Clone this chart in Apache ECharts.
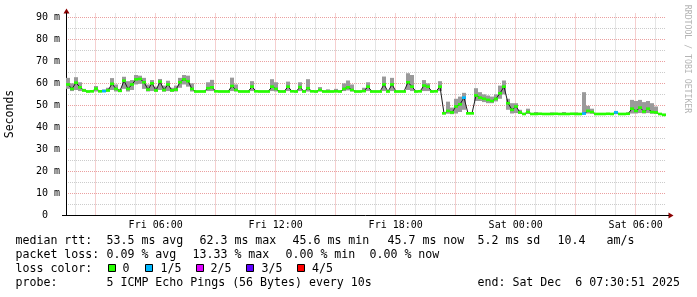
<!DOCTYPE html>
<html><head><meta charset="utf-8">
<script src="https://cdn.jsdelivr.net/npm/echarts@6/dist/echarts.min.js"></script>
<style>html,body{margin:0;padding:0;background:#fff}#c{width:697px;height:297px}</style>
</head><body><div id="c"></div>
<script>
// ---- time axis (hours since Fri 00:00) ----
const startHour = 1.5142;   // Fri 01:30:51
const endHour = 31.5142;    // Sat 07:30:51
const sampleStep = 0.2;     // one sample every 12 minutes

// ---- median RTT (ms) ----
const median = [
59.5,57.5,60.3,58.2,56.8,56.3,56.4,57.6,56.4,56.5,
56.8,59.8,57.5,56.6,61.2,57.5,59.5,61.8,62.0,60.5,
57.2,60.0,56.8,60.8,57.0,59.5,56.8,57.2,60.5,61.8,
61.0,57.5,56.3,56.3,56.3,57.8,58.2,56.4,56.3,56.3,
56.3,58.8,57.0,56.3,56.3,56.3,58.5,56.4,56.3,56.3,
56.3,58.5,57.5,56.3,56.3,58.5,56.4,56.3,58.3,56.3,
57.8,56.4,56.3,57.0,56.3,56.3,56.3,56.4,56.3,57.5,
58.2,57.0,56.3,56.3,56.5,58.5,56.3,56.3,56.3,59.5,
56.3,59.5,56.3,56.3,56.3,60.5,58.5,56.3,56.4,59.0,
58.5,56.3,56.4,58.5,46.4,47.5,46.8,49.5,50.5,53.5,
46.4,46.4,54.5,53.5,53.0,52.5,52.0,53.0,55.5,58.5,
51.0,48.0,49.5,46.8,46.1,47.0,46.1,46.1,46.2,46.1,
46.1,46.1,46.2,46.1,46.1,46.1,46.2,46.1,46.1,46.3,
47.5,47.0,46.1,46.1,46.1,46.2,46.1,46.8,46.1,46.1,
46.2,48.5,47.5,49.0,47.2,48.5,47.0,46.8,46.1,45.7
];
// ---- smoke: lowest and highest ping (ms) ----
const smokeLo = [
57.5,56.5,57.0,56.5,56.2,56.0,56.0,56.3,56.0,56.0,
56.2,57.0,56.3,56.2,57.5,56.3,57.0,59.5,59.8,57.5,
56.3,56.5,56.2,57.0,56.2,56.5,56.2,56.3,58.0,59.5,
58.5,56.3,56.0,56.0,56.0,56.5,56.5,56.0,56.0,56.0,
56.0,56.5,56.3,56.0,56.0,56.0,56.5,56.0,56.0,56.0,
56.0,56.5,56.3,56.0,56.0,56.5,56.0,56.0,56.5,56.0,
56.3,56.0,56.0,56.3,56.0,56.0,56.0,56.0,56.0,56.5,
56.8,56.3,56.0,56.0,56.0,56.5,56.0,56.0,56.0,56.5,
56.0,56.5,56.0,56.0,56.0,57.0,56.5,56.0,56.0,56.5,
56.5,56.0,56.0,56.5,46.0,46.2,46.0,46.3,47.0,48.0,
46.0,46.0,52.0,52.0,51.5,51.0,51.0,51.8,53.0,55.0,
48.0,46.3,46.5,46.1,45.8,46.1,45.8,45.8,45.8,45.8,
45.8,45.8,45.8,45.8,45.8,45.8,45.8,45.8,45.8,45.9,
46.3,46.2,45.8,45.8,45.8,45.8,45.8,46.0,45.8,45.8,
45.9,46.3,46.3,46.5,46.3,46.5,46.2,46.2,45.8,45.5
];
const smokeHi = [
62.5,60.0,62.8,60.5,57.5,56.8,57.0,58.8,57.0,57.2,
58.0,62.4,59.5,57.5,63.0,61.0,61.5,63.8,63.5,62.5,
59.5,61.5,58.5,62.0,59.0,61.2,58.0,59.0,62.5,63.8,
63.5,60.0,56.8,56.8,56.8,60.5,61.6,57.0,56.8,56.8,
56.8,62.6,59.5,56.8,56.8,56.8,61.0,57.0,56.8,56.8,
56.8,61.9,60.5,56.8,56.8,60.8,57.0,56.8,60.5,56.8,
61.9,57.0,56.8,58.3,56.8,57.3,56.8,57.5,56.8,60.0,
61.3,59.5,56.8,56.8,58.0,60.5,56.8,56.8,56.8,63.1,
56.8,62.5,56.8,56.8,56.8,64.6,63.8,56.8,57.0,61.5,
60.0,56.8,57.0,61.0,46.8,51.7,49.0,53.0,54.0,55.7,
46.8,46.8,57.8,56.0,55.0,54.5,54.0,55.0,59.0,61.3,
53.0,51.0,51.0,48.0,46.5,48.5,46.5,47.0,46.5,46.5,
46.5,46.8,46.5,46.5,47.0,46.5,46.5,46.8,46.5,56.0,
49.8,48.5,46.5,46.5,46.5,46.5,46.5,47.5,46.5,46.5,
46.8,52.5,52.0,52.5,51.5,52.0,51.0,49.5,46.5,46.2
];
// ---- packet loss (sample index -> level, 1 = 1/5) ----
const lossIdx = [9, 99, 129, 137];
const lossLvl = [1, 1, 1, 1];
const lossColors = ['#26ff00', '#00b8ff', '#dd00ff', '#5e00ff', '#ff0000'];
const lossLabels = ['0', '1/5', '2/5', '3/5', '4/5'];

// ---- axes ----
const yTickValues = [0, 10, 20, 30, 40, 50, 60, 70, 80, 90];
const xLabelHours = [6, 12, 18, 24, 30];
const xLabelText = ['Fri 06:00', 'Fri 12:00', 'Fri 18:00', 'Sat 00:00', 'Sat 06:00'];

// ---- legend texts ----
const rttTitle = 'median rtt:';
const rttStats = ['53.5 ms avg', '62.3 ms max', '45.6 ms min', '45.7 ms now', '5.2 ms sd', '10.4', 'am/s'];
const lossTitle = 'packet loss:';
const lossStats = ['0.09 % avg', '13.33 % max', '0.00 % min', '0.00 % now'];
const colorTitle = 'loss color:';
const probeTitle = 'probe:';
const probeText = '5 ICMP Echo Pings (56 Bytes) every 10s';
const endText = 'end: Sat Dec  6 07:30:51 2025';
const yAxisTitle = 'Seconds';
const watermark = 'RRDTOOL / TOBI OETIKER';

// ================= build =================
const MONO = "'DejaVu Sans Mono', monospace";
const xs = median.map((_, i) => startHour + (i + 0.5) * sampleStep);
const lossLevel = median.map(() => 0);
lossIdx.forEach((ix, k) => { lossLevel[ix] = lossLvl[k]; });
const bandHalf = 0.6;

const gridLines = [];
for (let h = Math.ceil(startHour); h <= Math.floor(endHour); h++) {
  gridLines.push({ xAxis: h, lineStyle: { color: h % 3 === 0 ? '#eba0a0' : '#cccccc', type: [1, 1], width: 1 } });
}
for (let v = 5; v <= 90; v += 5) {
  gridLines.push({ yAxis: v, lineStyle: { color: v % 10 === 0 ? '#eba0a0' : '#cccccc', type: [1, 1], width: 1 } });
}

const chart = echarts.init(document.getElementById('c'), null, { renderer: 'canvas' });
const G = { left: 66, right: 31, top: 13, bottom: 81.5 };
const yMax = 202.5 / 2.2022;
const FS = 11.6;

const graphics = [];
function txt(x, y, s) {
  graphics.push({ type: 'text', x: x, y: y, silent: true,
    style: { text: s, fill: '#000', font: FS + 'px ' + MONO, textVerticalAlign: 'middle' } });
}
// legend line 1
txt(15.5, 241, rttTitle);
[107, 200, 293, 388, 478, 558, 607].forEach((x, k) => txt(x - 0.5, 241, rttStats[k]));
// legend line 2
txt(15.5, 255, lossTitle);
[107, 193, 286, 370].forEach((x, k) => txt(x - 0.5, 255, lossStats[k]));
// legend line 3
txt(15.5, 269, colorTitle);
const boxX = [108.5, 145.5, 196.5, 246.5, 297.5];
const boxTextX = [123, 161, 211, 262, 312.5];
lossColors.forEach((c, k) => {
  graphics.push({ type: 'rect', silent: true, shape: { x: boxX[k], y: 264.5, width: 7, height: 7 },
    style: { fill: c, stroke: '#000', lineWidth: 1 } });
  txt(boxTextX[k] - 0.5, 269, lossLabels[k]);
});
// legend line 4
txt(15.5, 283, probeTitle);
txt(106.5, 283, probeText);
txt(477.5, 283, endText);
// y title
graphics.push({ type: 'text', x: 10, y: 114, rotation: Math.PI / 2, silent: true,
  style: { text: yAxisTitle, fill: '#000', font: '11.5px ' + MONO, textAlign: 'center', textVerticalAlign: 'middle' } });
// watermark
graphics.push({ type: 'text', x: 687.5, y: 59, rotation: -Math.PI / 2, silent: true,
  style: { text: watermark, fill: '#b4b4b4', font: '8.2px ' + MONO, textAlign: 'center', textVerticalAlign: 'middle' } });
// axis arrows
graphics.push({ type: 'polygon', silent: true, shape: { points: [[63.5, 13.5], [69.5, 13.5], [66.5, 8.5]] }, style: { fill: '#8b0000' } });
graphics.push({ type: 'polygon', silent: true, shape: { points: [[668.5, 212.5], [668.5, 218.5], [673.5, 215.5]] }, style: { fill: '#8b0000' } });
// x axis line (extends a little left of the y axis, as in RRDtool)
graphics.push({ type: 'line', silent: true, z: 10, shape: { x1: 62, y1: 215.5, x2: 669, y2: 215.5 }, style: { stroke: '#000', lineWidth: 1 } });

function colRect(api, x, lo, hi) {
  const a = api.coord([x - sampleStep / 2, hi]);
  const b = api.coord([x + sampleStep / 2, lo]);
  const x0 = Math.round(a[0]), x1 = Math.round(b[0]);
  return { x: x0, y: a[1], width: x1 - x0, height: Math.max(1, b[1] - a[1]) };
}

const option = {
  animation: false,
  backgroundColor: '#ffffff',
  grid: G,
  xAxis: {
    type: 'value', min: startHour, max: endHour,
    axisLine: { show: false },
    axisTick: { show: false },
    splitLine: { show: false },
    axisLabel: {
      customValues: xLabelHours,
      formatter: v => { const k = xLabelHours.indexOf(Math.round(v)); return k >= 0 ? xLabelText[k] : ''; },
      color: '#000', fontFamily: MONO, fontSize: 10, margin: 5
    }
  },
  yAxis: {
    type: 'value', min: 0, max: yMax,
    axisLine: { show: true, lineStyle: { color: '#000', width: 1 } },
    axisTick: { show: false },
    splitLine: { show: false },
    axisLabel: {
      customValues: yTickValues,
      formatter: v => (v === 0 ? '0  ' : Math.round(v) + ' m'),
      color: '#000', fontFamily: MONO, fontSize: 10, margin: 6
    }
  },
  series: [
    { type: 'custom', name: 'smoke', silent: true, z: 2,
      data: xs.map((x, i) => [x, smokeLo[i], smokeHi[i]]),
      encode: { x: 0, y: [1, 2] },
      renderItem: (params, api) => ({ type: 'rect', shape: colRect(api, api.value(0), api.value(1), api.value(2)),
        style: { fill: '#9a9a9a' } }) },
    { type: 'line', name: 'median', symbol: 'none', silent: true, z: 3,
      data: xs.map((x, i) => [x, median[i]]), lineStyle: { color: '#1a1a1a', width: 1 },
      markLine: { silent: true, symbol: ['none', 'none'], label: { show: false }, z: 0, data: gridLines, animation: false } },
    { type: 'custom', name: 'medianBand', silent: true, z: 4,
      data: xs.map((x, i) => [x, median[i], lossLevel[i]]),
      encode: { x: 0, y: 1 },
      renderItem: (params, api) => ({ type: 'rect',
        shape: colRect(api, api.value(0), api.value(1) - bandHalf, api.value(1) + bandHalf),
        style: { fill: lossColors[api.value(2)] } }) }
  ],
  graphic: graphics
};
chart.setOption(option);
</script>
</body></html>
